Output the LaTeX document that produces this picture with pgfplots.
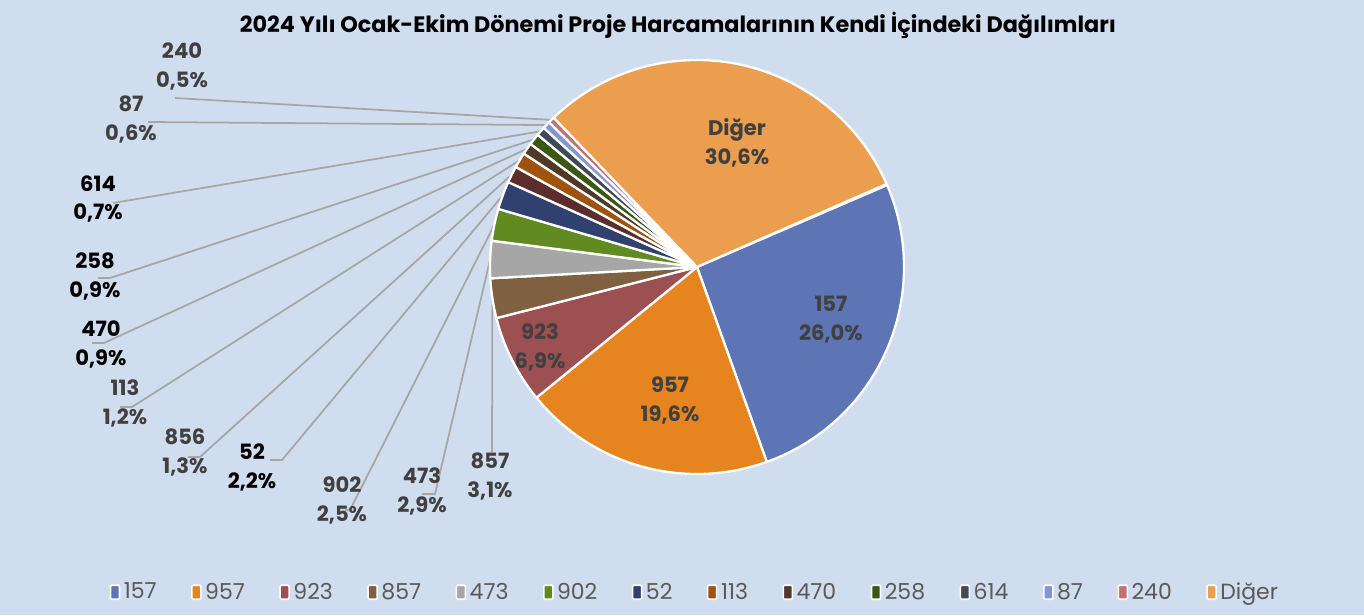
\documentclass[border=0pt]{standalone}
\usepackage{pgfplots}
\pgfplotsset{compat=1.18}
\usepackage{pgfplotstable}
\usepackage{fontspec}
\setmainfont{Poppins}

\definecolor{bgblue}{HTML}{CFDDEF}
\definecolor{txtg}{HTML}{404040}
\definecolor{legtxt}{HTML}{595959}
\definecolor{leadgray}{HTML}{A6A6A6}
\definecolor{c157}{HTML}{5D75B5}
\definecolor{c957}{HTML}{E6841F}
\definecolor{c923}{HTML}{9C5051}
\definecolor{c857}{HTML}{7F6142}
\definecolor{c473}{HTML}{A6A6A6}
\definecolor{c902}{HTML}{618A21}
\definecolor{c52}{HTML}{30416F}
\definecolor{c856}{HTML}{5C2D2D}
\definecolor{c113}{HTML}{A0530F}
\definecolor{c470}{HTML}{4F3A28}
\definecolor{c258}{HTML}{3A5814}
\definecolor{c614}{HTML}{404A54}
\definecolor{c87}{HTML}{8497CD}
\definecolor{c240}{HTML}{C07272}
\definecolor{cdiger}{HTML}{EB9E4E}

% slices in clockwise order; lx,ly = label centre, ex,ey = elbow, hx,hy = leader end (pixel units)
\pgfplotstableread{
name  pct  col    tcol  lx   ly    ex   ey   hx   hy   ld
157   26.0 c157   txtg  831  295   0    0    0    0    0
957   19.6 c957   txtg  670  215   0    0    0    0    0
923   6.9  c923   txtg  540  268   0    0    0    0    0
857   3.1  c857   txtg  490  139   492  163  492  163  1
473   2.9  c473   txtg  422  124   435  121  422  121  1
902   2.5  c902   txtg  342  115   350  105  345  105  1
52    2.2  c52    black 252  147.5 282  155  270  155  1
856   1.3  c856   txtg  185  163   200  158  188  158  1
113   1.2  c113   txtg  125  212   132  208  120  208  1
470   0.9  c470   black 101  271   104  272  92   272  1
258   0.9  c258   black 95   339   110  337  98   337  1
614   0.7  c614   black 98   416   113  412  113  412  1
87    0.6  c87    txtg  131  495.5 148  493  148  493  1
240   0.5  c240   txtg  182  549   175  517  175  517  1
Diğer 30.6 cdiger txtg  737  472   0    0    0    0    0
}\piedata

\newcommand\labelfont{\bfseries\fontsize{12}{16.5}\selectfont}

\begin{document}
\begin{tikzpicture}
\begin{axis}[
  scale only axis, width=27.28cm, height=12.3cm,
  xmin=0, xmax=1364, ymin=0, ymax=615,
  hide axis, clip=false,
  legend columns=-1,
  legend style={at={(0.51,0.037)}, anchor=center, draw=none, fill=none,
    font=\fontsize{12.5}{14}\selectfont, text=legtxt,
    /tikz/every even column/.append style={column sep=0.62cm}},
  legend image code/.code={\draw[#1, draw=white, line width=0.9pt, rounded corners=0.6pt]
    (0cm,-0.14cm) rectangle (0.18cm,0.14cm);},
]
\fill[bgblue] (axis cs:0,0) rectangle (axis cs:1364,615);
\node[font=\bfseries\fontsize{12.7}{15}\selectfont] at (axis cs:678,590)
  {2024 Yılı Ocak-Ekim Dönemi Proje Harcamalarının Kendi İçindeki Dağılımları};

\pgfplotstablegetrowsof{\piedata}
\pgfmathtruncatemacro{\lastrow}{\pgfplotsretval-1}
\def\angA{23.3}
\pgfplotsforeachungrouped \k in {0,...,\lastrow}{%
  \pgfplotstablegetelem{\k}{name}\of\piedata \let\nn\pgfplotsretval
  \pgfplotstablegetelem{\k}{pct}\of\piedata \let\pp\pgfplotsretval
  \pgfplotstablegetelem{\k}{col}\of\piedata \let\cc\pgfplotsretval
  \pgfplotstablegetelem{\k}{tcol}\of\piedata \let\tc\pgfplotsretval
  \pgfplotstablegetelem{\k}{lx}\of\piedata \let\lx\pgfplotsretval
  \pgfplotstablegetelem{\k}{ly}\of\piedata \let\ly\pgfplotsretval
  \pgfplotstablegetelem{\k}{ex}\of\piedata \let\ex\pgfplotsretval
  \pgfplotstablegetelem{\k}{ey}\of\piedata \let\ey\pgfplotsretval
  \pgfplotstablegetelem{\k}{hx}\of\piedata \let\hx\pgfplotsretval
  \pgfplotstablegetelem{\k}{hy}\of\piedata \let\hy\pgfplotsretval
  \pgfplotstablegetelem{\k}{ld}\of\piedata \let\ld\pgfplotsretval
  \pgfmathsetmacro{\angB}{\angA-3.6*\pp}
  \pgfmathsetmacro{\angM}{(\angA+\angB)/2}
  \ifnum\ld=1
    \edef\doleader{\noexpand\draw[leadgray, line width=1pt]
      ([shift={(\angM:4.14cm)}]axis cs:697,348) -- (axis cs:\ex,\ey) -- (axis cs:\hx,\hy);}
    \doleader
  \fi
  \edef\doslice{\noexpand\fill[\cc, draw=white, line width=1.3pt, line join=round]
    (axis cs:697,348) -- ++(\angA:4.14cm) arc[start angle=\angA, end angle=\angB, radius=4.14cm] -- cycle;}
  \doslice
  \edef\dolabel{\noexpand\node[text=\tc, font=\noexpand\labelfont, align=center, inner sep=0pt]
    at (axis cs:\lx,\ly) {\nn\noexpand\\\noexpand\pgfmathprintnumber[fixed, fixed zerofill,
    precision=1, use comma, assume math mode=true]{\pp}\noexpand\%};}
  \dolabel
  \global\let\angA\angB
}

\addlegendimage{fill=c157}\addlegendentry{157}
\addlegendimage{fill=c957}\addlegendentry{957}
\addlegendimage{fill=c923}\addlegendentry{923}
\addlegendimage{fill=c857}\addlegendentry{857}
\addlegendimage{fill=c473}\addlegendentry{473}
\addlegendimage{fill=c902}\addlegendentry{902}
\addlegendimage{fill=c52}\addlegendentry{52}
\addlegendimage{fill=c113}\addlegendentry{113}
\addlegendimage{fill=c470}\addlegendentry{470}
\addlegendimage{fill=c258}\addlegendentry{258}
\addlegendimage{fill=c614}\addlegendentry{614}
\addlegendimage{fill=c87}\addlegendentry{87}
\addlegendimage{fill=c240}\addlegendentry{240}
\addlegendimage{fill=cdiger}\addlegendentry{Diğer}
\end{axis}
\end{tikzpicture}
\end{document}
